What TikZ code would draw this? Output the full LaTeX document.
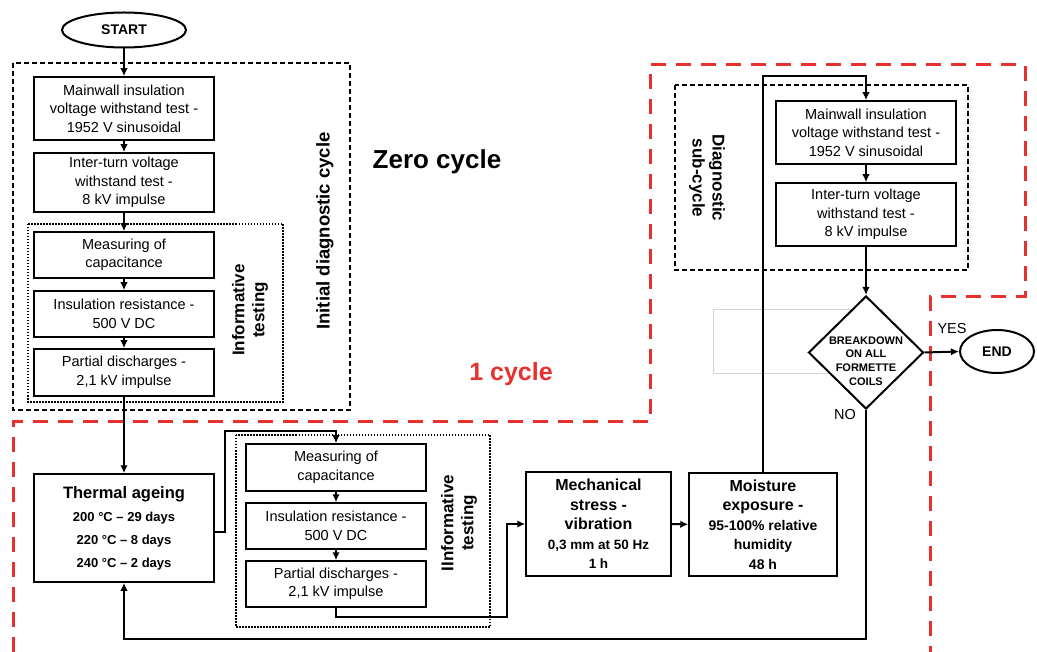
\documentclass[tikz,border=0pt]{standalone}
\usepackage{fontspec}
\setmainfont{Liberation Sans}
\usetikzlibrary{arrows.meta,shapes.geometric}
\definecolor{cyred}{HTML}{E8302E}
\begin{document}
\begin{tikzpicture}[x=1pt,y=-1pt,
  box/.style={draw,line width=1.5pt,fill=white,align=center,inner sep=0pt,
    minimum width=180pt,font=\fontsize{14.5}{18.5}\selectfont},
  arr/.style={line width=2pt,-{Latex[length=8pt,width=7.5pt]}},
  blackdash/.style={line width=1.5pt,dash pattern=on 5pt off 3pt},
  dotbox/.style={line width=1.5pt,dash pattern=on 1.5pt off 1.5pt},
  reddash/.style={cyred,line width=3pt,dash pattern=on 15pt off 10pt},
  rotlab/.style={align=center,font=\bfseries\fontsize{17}{20}\selectfont}
]
\useasboundingbox (0,0) rectangle (1037,652);

% frames
\draw[blackdash] (13,63) rectangle (350,410);
\draw[dotbox] (28,224) rectangle (283,402);
\draw[dotbox] (236,435) rectangle (490,627);
\draw[blackdash] (675,85) rectangle (968,270);
\draw[reddash] (13,652) -- (13,422) -- (650,422) -- (650,65) -- (1025,65) -- (1025,297) -- (930,297) -- (930,652);
\draw[gray!35,line width=0.6pt] (713,309) rectangle (882,373);

% nodes
\node[draw,ellipse,line width=2pt,minimum width=124pt,minimum height=35pt,inner sep=0pt,font=\bfseries\fontsize{14}{16}\selectfont] (start) at (124,30) {START};
\node[box,minimum height=63pt] (b1) at (124,108.5) {Mainwall insulation\\voltage withstand test -\\1952 V sinusoidal};
\node[box,minimum height=59pt] (b2) at (124,182.5) {Inter-turn voltage\\withstand test -\\8 kV impulse};
\node[box,minimum height=46pt] (b3) at (124,255) {Measuring of\\capacitance};
\node[box,minimum height=46pt] (b4) at (124,314) {Insulation resistance -\\500 V DC};
\node[box,minimum height=47pt] (b5) at (124,372.5) {Partial discharges -\\2,1 kV impulse};

\node[box,minimum height=108pt,font=\bfseries\fontsize{13}{23}\selectfont] (th) at (124,528) {{\fontsize{16.5}{20}\selectfont Thermal ageing}\\200 °C – 29 days\\220 °C – 8 days\\240 °C – 2 days};

\node[box,minimum height=47pt] (la) at (336,467.5) {Measuring of\\capacitance};
\node[box,minimum height=46pt] (lb) at (336,526) {Insulation resistance -\\500 V DC};
\node[box,minimum height=46pt] (lc) at (336,584) {Partial discharges -\\2,1 kV impulse};

\node[box,minimum width=145pt,minimum height=104pt,font=\bfseries\fontsize{16}{19.5}\selectfont] (mech) at (598.5,524) {Mechanical\\stress -\\vibration\\{\fontsize{13.5}{18}\selectfont 0,3 mm at 50 Hz}\\{\fontsize{13.5}{18}\selectfont 1 h}};
\node[box,minimum width=148pt,minimum height=103pt,font=\bfseries\fontsize{16}{19.5}\selectfont] (moist) at (763,524.5) {Moisture\\exposure -\\{\fontsize{14}{17.5}\selectfont 95-100\% relative}\\{\fontsize{14}{17.5}\selectfont humidity}\\{\fontsize{14}{17.5}\selectfont 48 h}};

\node[box,minimum height=63pt] (r1) at (866,132.5) {Mainwall insulation\\voltage withstand test -\\1952 V sinusoidal};
\node[box,minimum height=63pt] (r2) at (866,214.5) {Inter-turn voltage\\withstand test -\\8 kV impulse};

\node[draw,diamond,fill=white,line width=2pt,minimum width=115pt,minimum height=113pt,inner sep=0pt] (dia) at (866,352.5) {};
\node[align=center,inner sep=0pt,font=\bfseries\fontsize{11}{13.6}\selectfont] (diatxt) at (866,361) {BREAKDOWN\\ON ALL\\FORMETTE\\COILS};
\node[draw,ellipse,line width=2pt,minimum width=74pt,minimum height=43pt,inner sep=0pt,font=\bfseries\fontsize{14}{16}\selectfont] (end) at (997,351.5) {END};

% labels
\node[font=\bfseries\fontsize{26}{30}\selectfont] (zero) at (437,162) {Zero cycle};
\node[text=cyred,font=\bfseries\fontsize{25}{30}\selectfont] (one) at (511,374) {1 cycle};
\node[rotate=90,font=\bfseries\fontsize{18.5}{22}\selectfont] (idc) at (325,231) {Initial diagnostic cycle};
\node[rotate=90,rotlab] (inf1) at (250,310) {Informative\\testing};
\node[rotate=90,rotlab] (inf2) at (459,523) {IInformative\\testing};
\node[rotate=-90,rotlab] (dsc) at (707,178) {Diagnostic\\sub-cycle};
\node[font=\fontsize{14.5}{16}\selectfont] (yes) at (952,329) {YES};
\node[font=\fontsize{14.5}{16}\selectfont] (no) at (845,415) {NO};

% connectors
\draw[arr] (start) -- (b1);
\draw[arr] (b1) -- (b2);
\draw[arr] (b2) -- (b3);
\draw[arr] (b3) -- (b4);
\draw[arr] (b4) -- (b5);
\draw[arr] (b5) -- (th);
\coordinate (t1) at (225,431);
\draw[arr] ([yshift=-4pt]th.east) -| (t1) -| (la.north);
\draw[arr] (la) -- (lb);
\draw[arr] (lb) -- (lc);
\coordinate (t2) at (507,617);
\draw[arr] (lc.south) |- (t2) |- (mech.west);
\draw[arr] (mech) -- (moist);
\coordinate (t3) at (763,76);
\draw[arr] (moist.north) -- (t3) -| (r1.north);
\draw[arr] (r1) -- (r2);
\draw[arr] (r2.south) -- (dia.north);
\draw[arr] (dia.east) -- (end.west);
\coordinate (t4) at (866,639);
\draw[arr] (dia.south) -- (t4) -| (th.south);
\end{tikzpicture}
\end{document}
